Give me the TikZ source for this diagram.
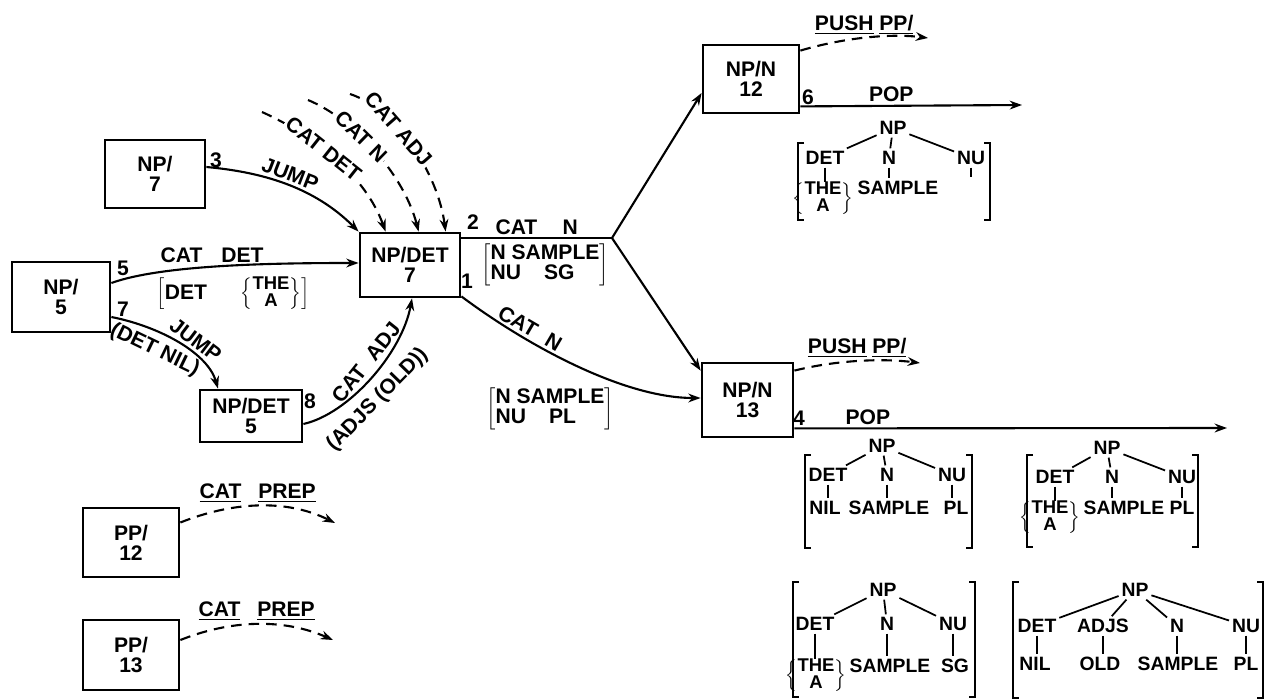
\documentclass[tikz,border=0pt]{standalone}
\usepackage{fontspec}
\setmainfont{Liberation Sans}
\usetikzlibrary{arrows.meta,calc}
\newcommand\atnfont{\fontsize{12}{11.5}\selectfont\bfseries}
\newcommand\treefont{\fontsize{11}{11}\selectfont\bfseries}
\newcommand\bracefont{\fontsize{10.5}{9.5}\selectfont\bfseries}
\newcommand\thea{{\bracefont\renewcommand\arraystretch{0.8}$\left\{\begin{tabular}{@{}c@{}}THE\\A\end{tabular}\right\}$}}
\begin{document}
\begin{tikzpicture}[x=0.02cm,y=-0.02cm,font=\atnfont,
  state/.style={draw,line width=1.6pt,align=center,inner sep=0pt},
  edge/.style={line width=1.2pt,-{Stealth[length=7pt,width=5pt]}},
  dedge/.style={edge,dash pattern=on 6pt off 4pt},
  plain/.style={line width=1.2pt},
  lab/.style={inner sep=1.5pt},
  onarc/.style={sloped,fill=white,inner sep=1pt},
  tl/.style={inner sep=1.5pt,font=\treefont},
  tline/.style={line width=1pt},
  brk/.style={line width=1.1pt}]
\useasboundingbox (0,0) rectangle (1265,699);
\renewcommand\arraystretch{0.85}

% states
\node[state,minimum width=2cm,minimum height=1.36cm] (np7) at (155,174) {NP/\\7};
\node[state,minimum width=1.96cm,minimum height=1.4cm] (np5) at (61,297) {NP/\\5};
\node[state,minimum width=2cm,minimum height=1.28cm] (ndet7) at (410,265) {NP/DET\\7};
\node[state,minimum width=2.04cm,minimum height=1.04cm] (ndet5) at (251,416) {NP/DET\\5};
\node[state,minimum width=1.92cm,minimum height=1.36cm] (npn12) at (751,79) {NP/N\\12};
\node[state,minimum width=1.82cm,minimum height=1.48cm] (npn13) at (747.5,400) {NP/N\\13};
\node[state,minimum width=1.92cm,minimum height=1.38cm] (pp12) at (131,542.5) {PP/\\12};
\node[state,minimum width=1.92cm,minimum height=1.4cm] (pp13) at (131,655) {PP/\\13};

% free ends
\coordinate (d1) at (262,112);
\coordinate (d2) at (308,100);
\coordinate (d3) at (350,94);
\coordinate (J) at (612,238);
\coordinate (push12) at (928,38);
\coordinate (pop12) at (1022,105);
\coordinate (push13) at (920,363);
\coordinate (pop13) at (1227,428);
\coordinate (prep12) at (335,523);
\coordinate (prep13) at (333,640);

% arc numbers
\node[lab] (n3) at (216,160) {3};
\node[lab] (n5) at (123,268) {5};
\node[lab] (n7) at (123,309) {7};
\node[lab] (n8) at (310,401) {8};
\node[lab] (n2) at (473,222) {2};
\node[lab] (n1) at (467,281) {1};
\node[lab] (n6) at (808,97) {6};
\node[lab] (n4) at (799,418) {4};

% JUMP from NP/7
\draw[edge] ($(np7.east)+(0,-7)$) .. controls +(55,5) and +(-45,-45) .. node[pos=0.5,sloped,above,lab] {JUMP} (ndet7.north west);

% dashed arcs into NP/DET 7
\draw[dedge] (d1) .. controls +(55,25) and +(-20,-55) .. node[pos=0.4,onarc] {CAT DET} ($(ndet7.north west)+(27,0)$);
\draw[dedge] (d2) .. controls +(48,20) and +(-14,-55) .. node[pos=0.38,onarc] {CAT N} ($(ndet7.north west)+(60,0)$);
\draw[dedge] (d3) .. controls +(45,15) and +(-8,-60) .. node[pos=0.38,onarc] {CAT ADJ} ($(ndet7.north west)+(87,0)$);

% NP/5 arcs
\draw[edge] ($(np5.east)+(0,-14)$) .. controls +(50,-18) and +(-90,0) .. node[pos=0.47,above,lab] {CAT\hspace{0.9em}DET} ($(ndet7.west)+(0,-2)$);
\node (reg1) at (233,294) {$\left[\mbox{DET\hspace{1.6em}}\vcenter{\hbox{\thea}}\right]$};
\draw[edge] ($(np5.east)+(0,20)$) .. controls +(50,10) and +(-10,-35) .. node[pos=0.58,sloped,above,inner sep=2pt] {JUMP} node[pos=0.36,sloped,below,inner sep=4pt] {(DET NIL)} ($(ndet5.north)+(-33,0)$);

% NP/DET 5 -> NP/DET 7
\draw[edge] ($(ndet5.east)+(0,8)$) .. controls +(45,-10) and +(-10,55) .. node[pos=0.55,sloped,above,inner sep=3pt] {CAT\hspace{0.6em}ADJ} node[pos=0.44,sloped,below,inner sep=5pt] {(ADJS (OLD))} ($(ndet7.south)+(2,0)$);

% NP/DET 7 -> NP/N
\draw[plain] ($(ndet7.east)+(0,-27)$) -- node[midway,above,lab] {CAT\hspace{1.2em}N} (J);
\node (reg2) at (545,265) {$\left[\begin{tabular}{@{}l@{}}N SAMPLE\\NU\hspace{1.1em}SG\end{tabular}\right]$};
\draw[edge] (J) -- ($(npn12.west)+(0,14)$);
\draw[edge] (J) -- ($(npn13.north west)+(0,9)$);
\draw[edge] ($(ndet7.south east)+(0,-2)$) .. controls +(60,45) and +(-80,0) .. node[pos=0.3,sloped,above,lab] {CAT\hspace{0.6em}N} ($(npn13.west)+(0,-2)$);
\node (reg3) at (550,409) {$\left[\begin{tabular}{@{}l@{}}N SAMPLE\\NU\hspace{1.1em}PL\end{tabular}\right]$};

% NP/N 12 arcs
\draw[dedge] ($(npn12.north east)+(0,7)$) .. controls +(40,-12) and +(-40,-5) .. node[pos=0.5,above,lab] {\underline{PUSH}\ \underline{PP/}} (push12);
\draw[edge] ($(npn12.south east)+(0,-8)$) -- node[pos=0.41,above,lab] {POP} (pop12);

% NP/N 13 arcs
\draw[dedge] ($(npn13.north east)+(0,9)$) .. controls +(40,-10) and +(-40,-5) .. node[pos=0.5,above,lab] {\underline{PUSH}\ \underline{PP/}} (push13);
\draw[edge] ($(npn13.south east)+(0,-10)$) -- node[pos=0.17,above,lab] {POP} (pop13);

% PP arcs
\draw[dedge] ($(pp12.east)+(0,-20)$) .. controls +(50,-20) and +(-50,-25) .. node[pos=0.5,above,lab] {\underline{CAT}\hspace{0.8em}\underline{PREP}} (prep12);
\draw[dedge] ($(pp13.east)+(0,-15)$) .. controls +(50,-20) and +(-50,-22) .. node[pos=0.5,above,lab] {\underline{CAT}\hspace{0.8em}\underline{PREP}} (prep13);

% ---------- Tree A (NP/N 12)
\node[tl] (npA) at (893,128) {NP};
\node[tl] (detA) at (825,158) {DET};
\node[tl] (nA) at (889,158) {N};
\node[tl] (nuA) at (971,158) {NU};
\node[inner sep=0pt] (theA) at (823,199) {\thea};
\node[tl] (sampleA) at (898,188) {SAMPLE};
\draw[tline] (npA) -- (detA);
\draw[tline] (npA) -- (nA);
\draw[tline] (npA) -- (nuA);
\draw[tline] (detA) -- (detA |- theA.north);
\draw[tline] (nA) -- (nA |- sampleA.north);
\draw[tline] (nuA.south) -- ++(0,9);
\draw[brk] (804,143) -| (798,220) -- (804,220);
\draw[brk] (984,143) -| (990,220) -- (984,220);

% ---------- Tree B
\node[tl] (npB) at (882,446) {NP};
\node[tl] (detB) at (828,475) {DET};
\node[tl] (nB) at (887,475) {N};
\node[tl] (nuB) at (952,475) {NU};
\node[tl] (nilB) at (825,508) {NIL};
\node[tl] (sampleB) at (889,508) {SAMPLE};
\node[tl] (plB) at (956,508) {PL};
\draw[tline] (npB) -- (detB);
\draw[tline] (npB) -- (nB);
\draw[tline] (npB) -- (nuB);
\draw[tline] (detB) -- (detB |- nilB.north);
\draw[tline] (nB) -- (nB |- sampleB.north);
\draw[tline] (nuB) -- (nuB |- plB.north);
\draw[brk] (811,455) -| (805,548) -- (811,548);
\draw[brk] (966,455) -| (972,548) -- (966,548);

% ---------- Tree C
\node[tl] (npC) at (1107,448) {NP};
\node[tl] (detC) at (1055,477) {DET};
\node[tl] (nC) at (1112,477) {N};
\node[tl] (nuC) at (1182,477) {NU};
\node[inner sep=0pt] (theC) at (1050,518) {\thea};
\node[tl] (sampleC) at (1124,508) {SAMPLE};
\node[tl] (plC) at (1182,508) {PL};
\draw[tline] (npC) -- (detC);
\draw[tline] (npC) -- (nC);
\draw[tline] (npC) -- (nuC);
\draw[tline] (detC) -- (detC |- theC.north);
\draw[tline] (nC) -- (nC |- sampleC.north);
\draw[tline] (nuC) -- (plC);
\draw[brk] (1033,455) -| (1027,547) -- (1033,547);
\draw[brk] (1192,455) -| (1198,547) -- (1192,547);

% ---------- Tree D
\node[tl] (npD) at (883,590) {NP};
\node[tl] (detD) at (815,624) {DET};
\node[tl] (nD) at (887,624) {N};
\node[tl] (nuD) at (953,624) {NU};
\node[inner sep=0pt] (theD) at (816,676) {\thea};
\node[tl] (sampleD) at (890,666) {SAMPLE};
\node[tl] (sgD) at (955,666) {SG};
\draw[tline] (npD) -- (detD);
\draw[tline] (npD) -- (nD);
\draw[tline] (npD) -- (nuD);
\draw[tline] (detD) -- (detD |- theD.north);
\draw[tline] (nD) -- (nD |- sampleD.north);
\draw[tline] (nuD) -- (nuD |- sgD.north);
\draw[brk] (799,582) -| (793,697) -- (799,697);
\draw[brk] (969,582) -| (975,697) -- (969,697);

% ---------- Tree E
\node[tl] (npE) at (1135,590) {NP};
\node[tl] (detE) at (1037,626) {DET};
\node[tl] (adjsE) at (1103,626) {ADJS};
\node[tl] (nE) at (1177,626) {N};
\node[tl] (nuE) at (1246,626) {NU};
\node[tl] (nilE) at (1035,664) {NIL};
\node[tl] (oldE) at (1100,664) {OLD};
\node[tl] (sampleE) at (1178,664) {SAMPLE};
\node[tl] (plE) at (1246,664) {PL};
\draw[tline] (npE) -- (detE);
\draw[tline] (npE) -- (adjsE);
\draw[tline] (npE) -- (nE);
\draw[tline] (npE) -- (nuE);
\draw[tline] (detE) -- (detE |- nilE.north);
\draw[tline] (adjsE) -- (adjsE |- oldE.north);
\draw[tline] (nE) -- (nE |- sampleE.north);
\draw[tline] (nuE) -- (nuE |- plE.north);
\draw[brk] (1019,582) -| (1013,698) -- (1019,698);
\draw[brk] (1257,582) -| (1263,698) -- (1257,698);
\end{tikzpicture}
\end{document}
